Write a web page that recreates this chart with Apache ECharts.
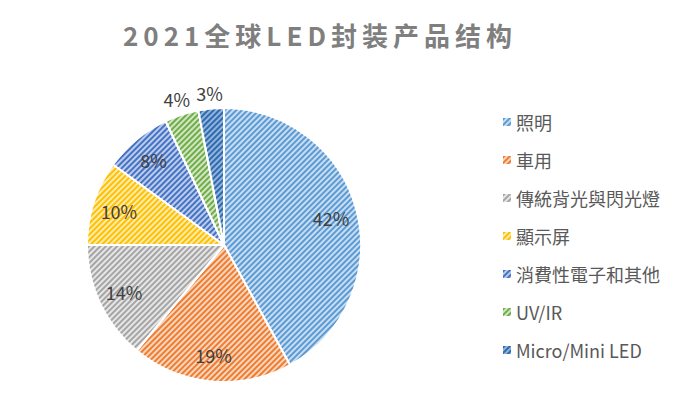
<!DOCTYPE html>
<html>
<head>
<meta charset="utf-8">
<script src="https://cdn.jsdelivr.net/npm/echarts@6/dist/echarts.min.js"></script>
<style>
  html, body { margin: 0; padding: 0; background: #fff; }
  #main { width: 677px; height: 401px; }
</style>
</head>
<body>
<div id="main"></div>
<script>
const titleText = '2021全球LED封装产品结构'
const categories = ['照明', '車用', '傳統背光與閃光燈', '顯示屏', '消費性電子和其他', 'UV/IR', 'Micro/Mini LED']
const shares = [42, 19, 14, 10, 8, 4, 3]
// stripe colour / light background colour for each slice
const stripeColors = ['#5B9BD5', '#ED7D31', '#A5A5A5', '#FFC000', '#4472C4', '#70AD47', '#2E6AAE']
const baseColors = ['#C9DDF1', '#FAD6BE', '#E6E6E6', '#FFEBAD', '#BCCCEB', '#D1E6C4', '#93B4DC']

const font = '"Noto Sans CJK TC", "Noto Sans", sans-serif'
const center = [224, 245]

const chart = echarts.init(document.getElementById('main'), null, { renderer: 'svg' })

function stripes (color) {
  return {
    symbol: 'rect',
    symbolSize: 1,
    dashArrayX: [1, 0],
    dashArrayY: [2, 2],
    rotation: -Math.PI / 4,
    color: color
  }
}

const pieData = categories.map((name, i) => {
  return {
    name: name,
    value: shares[i],
    itemStyle: { color: baseColors[i], decal: stripes(stripeColors[i]) }
  }
})

// transparent copies, only used to place the labels
// big slices: label inside the pie, small slices: label just outside
const innerLabelData = categories.map((name, i) => {
  return { name: name, value: shares[i], label: { show: shares[i] >= 5 } }
})
const outerLabelData = categories.map((name, i) => {
  return { name: name, value: shares[i], label: { show: shares[i] < 5 } }
})

const labelSeries = (radius, data) => {
  return {
    type: 'pie',
    center: center,
    radius: radius,
    startAngle: 90,
    clockwise: true,
    silent: true,
    legendHoverLink: false,
    avoidLabelOverlap: false,
    itemStyle: { color: 'rgba(0,0,0,0)' },
    label: {
      position: 'inside',
      formatter: '{c}%',
      fontFamily: font,
      fontSize: 18,
      color: '#404040'
    },
    labelLine: { show: false },
    emphasis: { disabled: true },
    data: data
  }
}

const option = {
  animation: false,
  backgroundColor: '#fff',
  title: {
    text: titleText,
    left: 118,
    top: 16,
    textStyle: {
      fontFamily: '"Noto Sans CJK SC", sans-serif',
      fontSize: 26,
      fontWeight: 'bold',
      color: '#7F7F7F'
    }
  },
  legend: {
    orient: 'vertical',
    left: 498,
    top: 108,
    itemWidth: 8,
    itemHeight: 8,
    itemGap: 20,
    icon: 'rect',
    itemStyle: { borderWidth: 0 },
    data: categories,
    textStyle: {
      fontFamily: font,
      fontSize: 18,
      color: '#595959'
    }
  },
  series: [
    {
      type: 'pie',
      center: center,
      radius: [0, 137],
      startAngle: 90,
      clockwise: true,
      label: { show: false },
      labelLine: { show: false },
      itemStyle: {
        borderColor: '#fff',
        borderWidth: 2
      },
      emphasis: { disabled: true },
      data: pieData
    },
    labelSeries([78, 137], innerLabelData),
    labelSeries([137, 163], outerLabelData)
  ]
}

chart.setOption(option)

function spaceTitle () {
  document.querySelectorAll('#main svg text').forEach(t => {
    if (t.textContent === titleText) {
      t.setAttribute('letter-spacing', '5')
    }
  })
}
chart.on('finished', spaceTitle)
spaceTitle()
</script>
</body>
</html>
